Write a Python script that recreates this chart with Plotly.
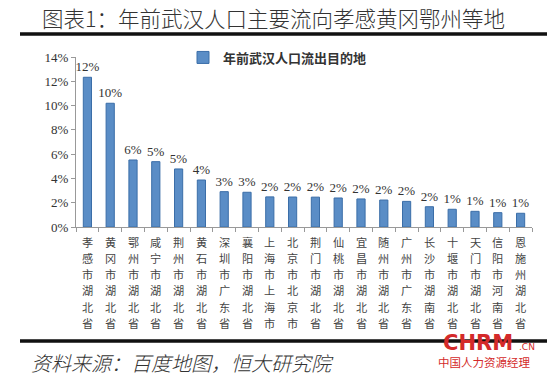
import plotly.graph_objects as go

cities = ["孝感市湖北省", "黄冈市湖北省", "鄂州市湖北省", "咸宁市湖北省", "荆州市湖北省",
          "黄石市湖北省", "深圳市广东省", "襄阳市湖北省", "上海市上海市", "北京市北京市",
          "荆门市湖北省", "仙桃市湖北省", "宜昌市湖北省", "随州市湖北省", "广州市广东省",
          "长沙市湖南省", "十堰市湖北省", "天门市湖北省", "信阳市河南省", "恩施州湖北省"]
share = [0.1233, 0.1019, 0.0552, 0.0538, 0.0478, 0.0387, 0.0291, 0.0286, 0.0248, 0.0247,
         0.0246, 0.0239, 0.0231, 0.0222, 0.0211, 0.0167, 0.0146, 0.0129, 0.0118, 0.0113]
series_name = "年前武汉人口流出目的地"
title_text = "图表1：年前武汉人口主要流向孝感黄冈鄂州等地"
source_text = "资料来源：百度地图，恒大研究院"

SERIF = "Liberation Serif, Noto Sans CJK SC, serif"
CJK = "Noto Sans CJK SC, sans-serif"
W, H = 550, 378


def px(x):
    return x / W


def py(y):
    return 1 - y / H


fig = go.Figure()
fig.add_trace(go.Bar(
    x=cities, y=share, name=series_name,
    marker=dict(color="#5A8DC6", line=dict(color="#3B6EA8", width=1)),
    width=0.36,
    texttemplate="%{y:.0%}", textposition="outside", constraintext="none",
    textfont=dict(family=SERIF, size=13, color="#333333"),
    cliponaxis=False,
))

# thick rules above and below the chart, on a hidden full-page helper axis
for ry in (py(34), py(341)):
    fig.add_trace(go.Scatter(
        x=[px(20), px(547)], y=[ry, ry], mode="lines", xaxis="x2", yaxis="y2",
        line=dict(color="#111111", width=3), showlegend=False, hoverinfo="skip",
        cliponaxis=False))

# vertical (stacked-character) category labels
label_annos = []
for c in cities:
    for i, ch in enumerate(c):
        label_annos.append(dict(
            text=ch, x=c, xref="x", yref="paper", y=py(241.8 + 16.2 * i),
            xanchor="center", yanchor="middle", showarrow=False,
            font=dict(family=CJK, size=11.2, color="#444444")))

fig.update_layout(
    width=W, height=H,
    margin=dict(l=0, r=0, t=0, b=0),
    paper_bgcolor="white", plot_bgcolor="rgba(0,0,0,0)",
    showlegend=True,
    legend=dict(x=px(183), y=py(42.5), xanchor="left", yanchor="top", orientation="h",
                font=dict(family=CJK, size=13, color="#333333", weight="bold"),
                bgcolor="rgba(0,0,0,0)", itemwidth=30),
    xaxis=dict(type="category", domain=[px(76), px(532)], anchor="y",
               tickson="boundaries", ticks="outside", ticklen=4,
               tickcolor="#999999", showline=True, linecolor="#999999", linewidth=1,
               showticklabels=False, showgrid=False, automargin=False),
    yaxis=dict(domain=[py(227), py(57)], anchor="x",
               range=[0, 0.14], dtick=0.02, tickformat=".0%", ticks="outside", ticklen=4,
               tickcolor="#999999", showline=True, linecolor="#999999", linewidth=1,
               showgrid=False, zeroline=False, automargin=False,
               tickfont=dict(family=SERIF, size=13, color="#333333")),
    xaxis2=dict(domain=[0, 1], range=[0, 1], visible=False, anchor="y2",
                fixedrange=True),
    yaxis2=dict(domain=[0, 1], range=[0, 1], visible=False, anchor="x2",
                fixedrange=True),
    shapes=[
        dict(type="line", xref="paper", yref="paper", x0=px(20), x1=px(547), y0=ry, y1=ry,
             line=dict(color="#111111", width=3))
        for ry in (py(34), py(341))
    ],
    annotations=label_annos + [
        dict(text=title_text, xref="paper", yref="paper", x=px(40), y=py(17),
             xanchor="left", yanchor="middle", showarrow=False,
             font=dict(family=CJK, size=21.5, color="#333333", weight=300)),
        dict(text="<i>" + source_text + "</i>", xref="paper", yref="paper", x=px(29),
             y=py(362), xanchor="left", yanchor="middle", showarrow=False,
             font=dict(family=CJK, size=20, color="#333333", weight=300)),
        dict(text="<b>CHRM</b>", xref="paper", yref="paper", x=px(515), y=py(343),
             xanchor="right", yanchor="middle", showarrow=False,
             font=dict(family="DejaVu Sans", size=21, color="#D42A2A")),
        dict(text=".CN", xref="paper", yref="paper", x=px(517), y=py(347),
             xanchor="left", yanchor="middle", showarrow=False,
             font=dict(family="DejaVu Sans", size=9, color="#D42A2A")),
        dict(text="中国人力资源经理", xref="paper", yref="paper", x=px(532), y=py(362),
             xanchor="right", yanchor="middle", showarrow=False,
             font=dict(family=CJK, size=11.5, color="#D42A2A")),
    ],
)

fig.write_html("out.html", config={"displayModeBar": False},
               post_script="document.body.style.margin='0';")
